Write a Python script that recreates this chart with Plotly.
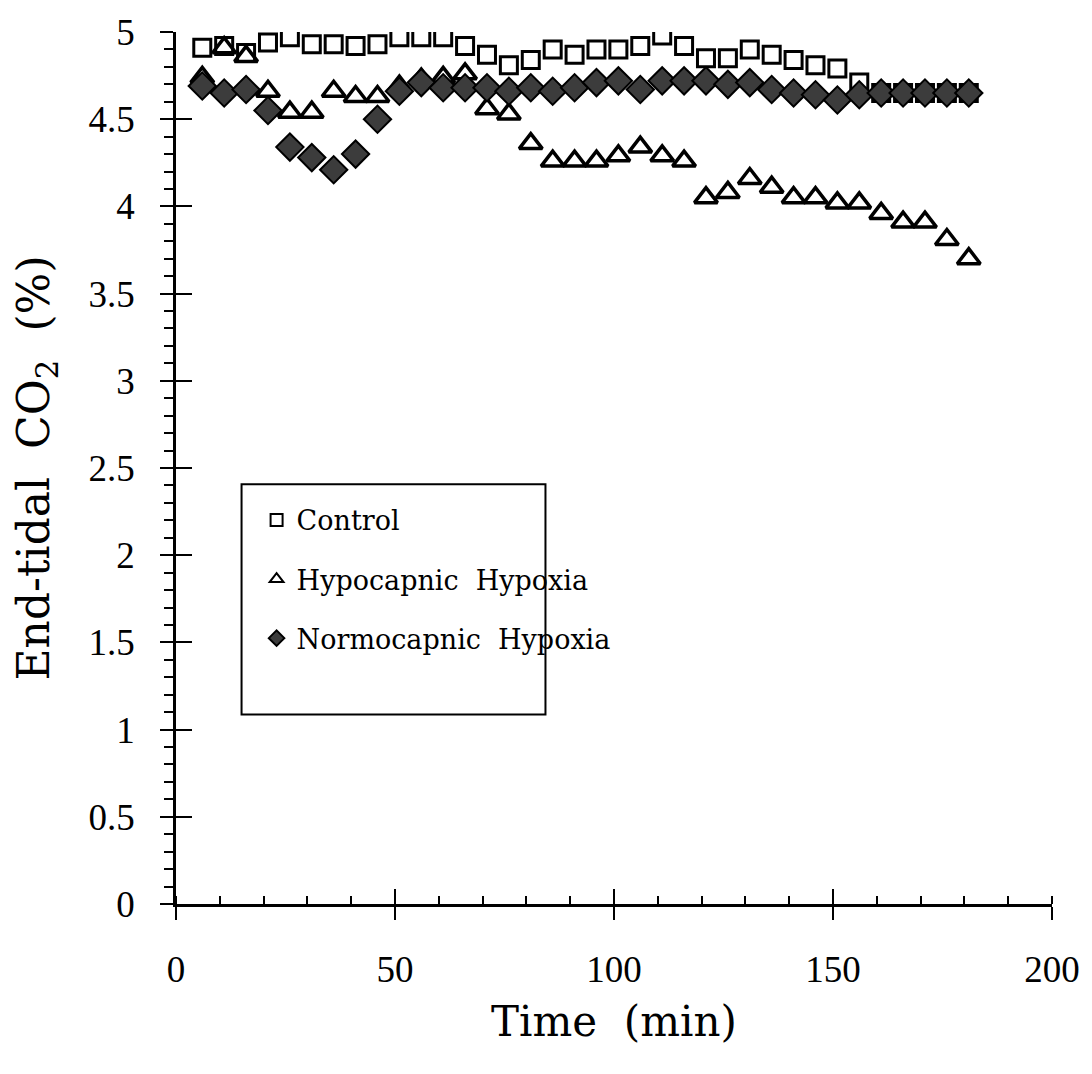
import plotly.graph_objects as go

time_min = [6, 11, 16, 21, 26, 31, 36, 41, 46, 51, 56, 61, 66, 71, 76, 81, 86, 91,
            96, 101, 106, 111, 116, 121, 126, 131, 136, 141, 146, 151, 156, 161,
            166, 171, 176, 181]

control = [4.91, 4.92, 4.88, 4.94, 4.97, 4.93, 4.93, 4.92, 4.93, 4.97, 4.97, 4.97, 4.92,
           4.87, 4.81, 4.84, 4.90, 4.87, 4.90, 4.90, 4.92, 4.98, 4.92, 4.85, 4.85,
           4.90, 4.87, 4.84, 4.81, 4.79, 4.71,
           4.65, 4.65, 4.65, 4.65, 4.65]

hypocapnic = [4.74, 4.91, 4.86, 4.66, 4.54, 4.54, 4.66, 4.63, 4.63, 4.69, 4.73, 4.74, 4.76,
              4.56, 4.53, 4.36, 4.26, 4.26, 4.26, 4.29, 4.34, 4.29, 4.26, 4.05, 4.08, 4.16,
              4.11, 4.05, 4.05, 4.02, 4.02, 3.96, 3.91, 3.91, 3.81, 3.70]

normocapnic = [4.69, 4.65, 4.67, 4.55, 4.34, 4.28, 4.21, 4.30, 4.50, 4.66, 4.71, 4.68, 4.68,
               4.68, 4.66, 4.68, 4.66, 4.68, 4.71, 4.72, 4.67, 4.72, 4.72, 4.72, 4.70, 4.71,
               4.67, 4.65, 4.64, 4.61, 4.64, 4.65, 4.65, 4.65, 4.65, 4.65]

series_names = ["Control", "Hypocapnic  Hypoxia", "Normocapnic  Hypoxia"]

TICKFONT = dict(family="Liberation Serif", size=37, color="black")
SERIF = "DejaVu Serif"

fig = go.Figure()

fig.add_trace(go.Scatter(
    x=time_min, y=control, mode="markers", name=series_names[0], legendgroup="a",
    marker=dict(symbol="square-open", size=17, color="black", line=dict(width=3, color="black")),
))
fig.add_trace(go.Scatter(
    x=time_min, y=hypocapnic, mode="markers", name=series_names[1], legendgroup="b",
    marker=dict(symbol="triangle-up-open", size=20, color="black", line=dict(width=3.5, color="black")),
))
fig.add_trace(go.Scatter(
    x=time_min, y=normocapnic, mode="markers", name=series_names[2], legendgroup="c",
    marker=dict(symbol="diamond", size=21, color="#3c3c3c", line=dict(width=2, color="black")),
))
# invisible trace to carry the overlay axes (crossing major ticks)
fig.add_trace(go.Scatter(
    x=time_min, y=control, mode="markers", xaxis="x2", yaxis="y2",
    marker=dict(opacity=0), showlegend=False, hoverinfo="skip",
))

fig.update_layout(
    width=1092, height=1074,
    margin=dict(l=176, r=34, t=25, b=170),
    paper_bgcolor="white", plot_bgcolor="white",
    font=dict(family=SERIF, color="black"),
    showlegend=True,
    legend=dict(
        x=0.092, y=0.468, xanchor="left", yanchor="top",
        bgcolor="rgba(0,0,0,0)", borderwidth=0,
        font=dict(family=SERIF, size=27, color="black"),
        itemsizing="constant", tracegroupgap=21, traceorder="grouped",
    ),
    xaxis=dict(
        range=[0, 200], dtick=50, tick0=0,
        showline=True, linewidth=2.5, linecolor="black",
        ticks="outside", ticklen=13, tickwidth=2, tickcolor="black",
        minor=dict(ticks="inside", dtick=10, ticklen=8, tickwidth=2, tickcolor="black"),
        showgrid=False, zeroline=False,
        tickfont=TICKFONT, ticklabelstandoff=18,
        title=dict(text="Time  (min)", font=dict(family=SERIF, size=42), standoff=18),
    ),
    yaxis=dict(
        range=[0, 5], dtick=0.5, tick0=0,
        showline=True, linewidth=2.5, linecolor="black",
        ticks="outside", ticklen=13, tickwidth=2, tickcolor="black",
        minor=dict(ticks="outside", dtick=0.1, ticklen=9, tickwidth=2, tickcolor="black"),
        showgrid=False, zeroline=False,
        tickfont=TICKFONT, ticklabelstandoff=18,
        title=dict(text="End-tidal  CO<sub>2</sub>  (%)", font=dict(family=SERIF, size=44), standoff=26),
    ),
    xaxis2=dict(
        overlaying="x", anchor="y2", range=[0, 200], dtick=50, tick0=0,
        ticks="inside", ticklen=15, tickwidth=2, tickcolor="black",
        showticklabels=False, showline=False, showgrid=False, zeroline=False,
    ),
    yaxis2=dict(
        overlaying="y", anchor="x2", range=[0, 5], dtick=0.5, tick0=0,
        ticks="inside", ticklen=16, tickwidth=2, tickcolor="black",
        showticklabels=False, showline=False, showgrid=False, zeroline=False,
    ),
    shapes=[dict(
        type="rect", xref="paper", yref="paper",
        x0=(242 - 176) / 882, x1=(548 - 176) / 882,
        y0=(904 - 713) / 879, y1=(904 - 481) / 879,
        line=dict(color="black", width=2), fillcolor="rgba(0,0,0,0)",
    )],
)

fig.write_html("out.html")
